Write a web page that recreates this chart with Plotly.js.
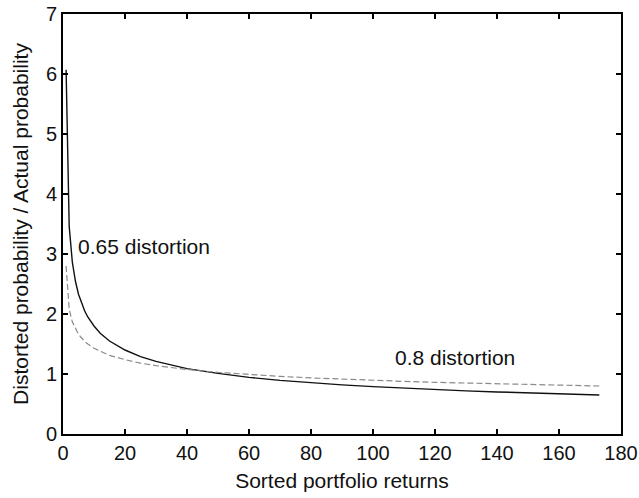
<!DOCTYPE html>
<html>
<head>
<meta charset="utf-8">
<script src="https://cdn.plot.ly/plotly-3.0.1.min.js"></script>
<style>html,body{margin:0;padding:0;background:#fff;}#chart{width:639px;height:498px;}</style>
</head>
<body>
<div id="chart"></div>
<script>
// Sorted portfolio return index (x)
const xs = [1,2,3,4,5,6,7,8,9,10,12,15,20,25,30,40,50,60,70,80,90,100,110,120,130,140,150,160,173];
// Ratio for 0.65 distortion (solid)
const ratio065 = [6.07,3.46,2.87,2.55,2.33,2.17,2.05,1.95,1.87,1.80,1.68,1.55,1.40,1.29,1.21,1.09,1.01,0.944,0.894,0.853,0.819,0.789,0.763,0.740,0.719,0.701,0.684,0.669,0.651];
// Ratio for 0.8 distortion (dashed)
const ratio08 = [2.80,2.08,1.87,1.75,1.66,1.60,1.54,1.50,1.46,1.43,1.38,1.31,1.24,1.18,1.14,1.075,1.028,0.990,0.960,0.935,0.913,0.894,0.877,0.861,0.848,0.835,0.824,0.813,0.800];
const xTicks = [0,20,40,60,80,100,120,140,160,180];
const yTicks = [0,1,2,3,4,5,6,7];

const fontFam = 'Liberation Sans, Arial, Helvetica, sans-serif';

const traces = [
  {x: xs, y: ratio065, type: 'scatter', mode: 'lines', line: {color: '#111', width: 1.4}, hoverinfo: 'skip'},
  {x: xs, y: ratio08, type: 'scatter', mode: 'lines', line: {color: '#8a8a8a', width: 1.2, dash: '6px,3px'}, hoverinfo: 'skip'}
];

const axisCommon = {
  showgrid: false, zeroline: false, showline: true, linecolor: '#000', linewidth: 2,
  mirror: 'ticks', ticks: 'inside', ticklen: 5, tickwidth: 1.2, tickcolor: '#000',
  tickfont: {family: fontFam, size: 20, color: '#111'}
};

const layout = {
  width: 639, height: 498,
  margin: {l: 63, r: 18, t: 14, b: 64},
  paper_bgcolor: '#fff', plot_bgcolor: '#fff',
  showlegend: false,
  font: {family: fontFam, color: '#111'},
  xaxis: Object.assign({}, axisCommon, {
    range: [0, 180], tickmode: 'array', tickvals: xTicks, ticktext: xTicks.map(String),
    title: {text: 'Sorted portfolio returns', font: {family: fontFam, size: 21, color: '#111'}, standoff: 10}
  }),
  yaxis: Object.assign({}, axisCommon, {
    range: [0, 7], tickmode: 'array', tickvals: yTicks, ticktext: yTicks.map(String),
    title: {text: 'Distorted probability / Actual probability', font: {family: fontFam, size: 21, color: '#111'}, standoff: 12}
  }),
  annotations: [
    {x: 4.3, y: 3.12, xref: 'x', yref: 'y', text: '0.65 distortion', showarrow: false, xanchor: 'left', yanchor: 'middle', font: {family: fontFam, size: 21, color: '#111'}},
    {x: 106.5, y: 1.275, xref: 'x', yref: 'y', text: '0.8 distortion', showarrow: false, xanchor: 'left', yanchor: 'middle', font: {family: fontFam, size: 21, color: '#111'}}
  ]
};

Plotly.newPlot('chart', traces, layout, {staticPlot: true, displayModeBar: false});
</script>
</body>
</html>
